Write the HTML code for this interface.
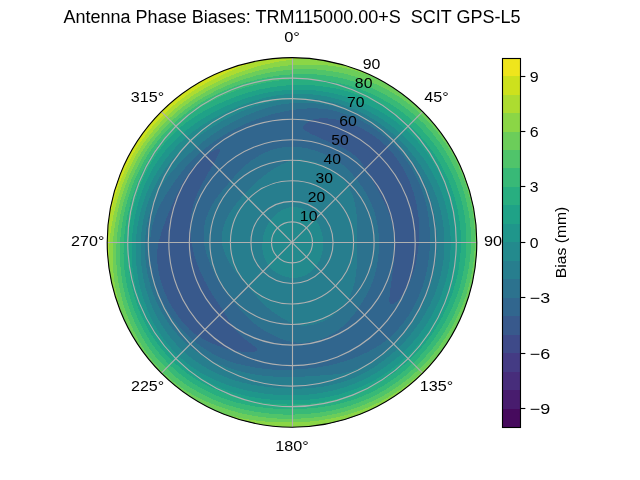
<!DOCTYPE html><html><head><meta charset="utf-8"><title>Antenna Phase Biases</title><style>html,body{margin:0;padding:0;background:#fff;width:640px;height:480px;overflow:hidden}svg{display:block}</style></head><body><svg width="640" height="480" viewBox="0 0 640 480"><rect width="640" height="480" fill="#fff"/><defs><clipPath id="c"><circle cx="292.00" cy="242.40" r="184.80"/></clipPath></defs><g clip-path="url(#c)" shape-rendering="crispEdges" fill-rule="evenodd"><circle cx="292.00" cy="242.40" r="185.80" fill="#38598c"/><path d="M292 241.4L292 57.6 301.7 57.9 311.3 58.6 320.9 59.9 330.4 61.6 339.8 63.9 346 65.7 355.2 68.7 364.2 72.3 373 76.3 381.6 80.8 387.2 84 395.3 89.2 403.2 94.8 410.8 100.8 415.7 105.1 422.7 111.7 429.3 118.7 435.6 126.1 439.6 131.2 445.2 139.1 450.4 147.2 455.2 155.6 459.5 164.3 463.3 173.2 466.7 182.2 469.6 191.5 472.1 200.8 473.4 207.1 474.5 213.5 475.8 223.1 476.5 232.7 476.8 242.4 476.5 252.1 475.8 261.7 474.5 271.3 473.4 277.7 472.1 284 469.6 293.3 466.7 302.6 463.3 311.6 459.5 320.5 455.2 329.2 452 334.8 447 343 441.5 351 435.6 358.7 429.3 366.1 422.7 373.1 415.7 379.7 410.8 384 403.2 390 395.3 395.6 387.2 400.8 381.6 404 373 408.5 364.2 412.5 355.2 416.1 346 419.1 336.7 421.7 330.4 423.2 320.9 424.9 311.3 426.2 301.7 426.9 292 427.2 282.3 426.9 272.7 426.2 263.1 424.9 253.6 423.2 244.2 420.9 238 419.1 228.8 416.1 219.8 412.5 211 408.5 202.4 404 196.8 400.8 188.7 395.6 180.8 390 173.2 384 166 377.6 161.3 373.1 154.7 366.1 148.4 358.7 142.5 351 138.8 345.7 133.6 337.6 130.4 332 125.9 323.4 121.9 314.6 118.3 305.6 115.3 296.4 112.7 287.1 110.6 277.7 109 268.1 107.9 258.5 107.3 248.8 107.2 242.4 107.3 236 107.9 226.3 109 216.7 110.6 207.1 112.7 197.7 115.3 188.4 118.3 179.2 120.7 173.2 123.2 167.2 127.3 158.5 132 150 137 141.8 142.5 133.8 148.4 126.1 154.7 118.7 161.3 111.7 168.3 105.1 173.2 100.8 180.8 94.8 188.7 89.2 196.8 84 202.4 80.8 211 76.3 219.8 72.3 228.8 68.7 238 65.7 244.2 63.9 253.6 61.6 263.1 59.9 272.7 58.6 282.3 57.9 292 57.6 292 242.4ZM303.9 129.5L304.6 130.2 306.5 131.4 312.2 134.4 321.7 138.8 339 146.1 344.1 148.5 350.5 152.3 355 155.7 357.7 158.3 360.2 161.1 362.5 164.1 365.7 168.7 370.4 176.6 375.7 185.9 383.3 200.2 387.5 209.5 389.4 214.5 390.9 219.6 392.9 228.2 393.7 233.5 394.2 238.8 394.5 247.7 394.3 256.8 393.3 267.7 390.4 288.9 389.5 297.3 389.4 301.6 389.6 303.2 390.2 304.2 391.2 304.5 392.6 304.2 394.4 303.2 396.6 301.5 399.1 299.1 401.9 295.7 404.3 292.4 406.6 288.7 408.6 284.9 412 276.8 414.6 268.5 416.6 259.9 418.3 249 419.2 238 419.3 229 418.9 220 417.8 211 416.1 202.1 413.5 192.3 409.9 182.3 406.1 173.8 401.6 165.7 396.4 157.9 390.5 150.6 385.6 145.5 378.5 139.3 372.9 135.1 364.9 130.2 356.5 126 347.8 122.6 343.4 121.3 338.9 120.1 334.4 119.2 329.5 118.6 324.6 118.3 320.6 118.4 317.3 118.7 314.5 119.2 312.3 119.8 309.1 121.4 305.3 124.1 303.4 125.9 303 126.9 302.9 127.9 303.3 129ZM257.2 349.4L257 348.7 255.3 347 246.4 340.3 241.9 336.6 237.8 332.6 235.3 329.7 231 323.7 222.5 309.5 211.3 292.8 207.9 287.1 204.5 280.5 201.2 273.7 198.5 267.4 196.2 261 194.6 256.1 193.3 251 191.8 244.1 190.6 235 190.4 229.9 190.5 224.5 190.8 219 191.4 213.6 192.4 208.1 193.5 203.9 195 199.2 196.4 195.8 200.3 187.3 205.7 177.4 215.1 161.1 218.9 153.6 219.7 151.7 220 150.1 219.8 149 218.9 148.4 216.4 149.1 211.9 151.5 207.3 154.7 203.9 157.3 199.3 161.3 195.9 164.6 193 167.8 189.1 172.8 184.2 180.2 179 189.7 173.5 201.6 166.6 218 162.6 228.8 159.6 238.5 157.6 247.5 157.1 254.2 157.2 261.3 157.7 266.1 158.4 270.8 160.5 280.1 163.5 289.2 166.2 295.8 169.3 302.2 172.9 308.4 176.8 314.4 180.9 320 185.6 325.5 189.5 329.5 194.9 334 202.4 338.6 206.5 340.8 212.8 343.8 221.4 347.1 228.6 349.2 238.8 351.3 242.1 351.7 248.2 352.1 253.4 351.8 255.4 351.4 256.8 350.8 257.4 349.9Z" fill="#31668e"/><path d="M292 241.4L292 146.5 298.7 146.9 306.9 148.3 314.9 150.5 324.2 153.9 331.6 157.4 338.6 161.7 343.8 165.6 349.7 171.2 356 178.4 361.6 186 366.5 194 370.8 202.5 374.1 210.9 376.2 218.3 377.9 227.1 378.8 236.3 378.9 247 378.7 252 378.2 257.6 376.7 267.2 375.4 272.8 374.1 277.3 370.9 286.1 366.7 294.7 360.9 304.4 354.2 314 348.8 320.5 342.6 326.5 338.5 329.8 335.6 331.9 331.1 334.6 328 336.3 324.8 337.7 319.9 339.6 313.1 341.5 307.8 342.3 304.3 342.7 297.3 342.7 293.7 342.3 290.3 341.7 285.2 340.3 281.8 339.2 273.9 335.7 264.3 330.6 258 326.5 251.8 321.3 246.1 315.9 238.3 307.2 229.3 296.9 224.8 291.3 220 284 215.8 276.3 210.4 264.3 208.2 258.7 206.3 252.9 205 248.5 204.1 243.9 203.7 240.9 203.5 236.2 203.5 233.1 203.9 228.5 204.4 225.4 205.4 220.8 207.9 213.4 209.8 209.2 211.9 205.1 216 198.5 220.7 192.5 234.6 176.4 239.9 170.6 245.6 165.2 251.9 160.2 258.8 155.8 264.6 152.8 272.3 149.8 278.7 148 285.3 146.9 292 146.5 292 242.4ZM292 110L292 57.6 298.4 57.7 308.1 58.3 317.7 59.4 327.3 61 333.6 62.3 342.9 64.8 352.2 67.7 358.2 69.9 367.2 73.6 375.9 77.7 384.4 82.4 392.6 87.4 400.6 92.9 408.3 98.8 415.7 105.1 422.7 111.7 429.3 118.7 435.6 126.1 441.5 133.8 447 141.8 452 150 456.7 158.5 460.8 167.2 464.5 176.2 466.7 182.2 469.6 191.5 472.1 200.8 473.4 207.1 474.5 213.5 475.8 223.1 476.7 236 476.7 248.8 476.3 255.3 475.4 264.9 473.4 277.7 472.1 284 469.6 293.3 467.8 299.5 464.5 308.6 459.5 320.5 455.2 329.2 452 334.8 447 343 443.4 348.4 439.6 353.6 433.6 361.2 424.9 370.8 418 377.6 413.2 381.9 405.8 388 400.6 391.9 389.9 399.1 381.6 404 370.1 409.9 358.2 414.9 346 419.1 333.6 422.5 320.9 424.9 308.1 426.5 295.2 427.2 282.3 426.9 269.5 425.8 256.7 423.8 244.2 420.9 231.8 417.1 219.8 412.5 208.1 407.1 196.8 400.8 186 393.8 175.7 386 166 377.6 156.8 368.4 148.4 358.7 140.6 348.4 133.6 337.6 127.3 326.3 121.9 314.6 117.3 302.6 113.5 290.2 110.6 277.7 109 268.1 107.7 255.3 107.2 242.4 107.3 236 107.9 226.3 109 216.7 110.6 207.1 112.7 197.7 115.3 188.4 118.3 179.2 120.7 173.2 123.2 167.2 127.3 158.5 132 150 137 141.8 142.5 133.8 148.4 126.1 154.7 118.7 161.3 111.7 168.3 105.1 173.2 100.8 180.8 94.8 188.7 89.2 196.8 84 202.4 80.8 211 76.3 219.8 72.3 228.8 68.7 238 65.7 244.2 63.9 253.6 61.6 263.1 59.9 272.7 58.6 282.3 57.9 292 57.6 292 110 282.9 111.7 271.7 114.4 263.1 117.1 252.5 120.9 243.4 124.7 234.3 129.2 226.6 133.5 217.2 139.5 208.2 146 201.3 151.7 194.6 157.7 188.3 164.2 182.3 171.2 176.8 178.5 171.5 186.2 164 197.8 159.1 206.7 156.8 211.9 155.3 215.8 153.8 220.5 152.3 226.3 151.1 232.5 150.4 237.5 149.8 247.4 149.9 254.8 150.3 259.8 150.9 264.8 152.2 272.1 153.3 277 155.3 284.2 157.8 291.2 159.7 295.9 162.9 302.6 166.5 309.1 170.5 315.4 174.9 321.4 179.7 327 184.7 332.4 191.9 339.1 197.6 343.7 203.4 348 209.5 351.9 215.7 355.4 222.3 358.6 229.3 361.4 235.6 363.3 247 366 256 367.7 265.5 369 274.1 369.7 283.1 369.9 294.2 369.6 305.3 368.8 316.3 367.6 326.5 366 334 364.3 342.7 361.9 351.4 359 360 355.6 368.5 351.6 376.7 347 382.7 343.1 386.5 340.3 390.2 337.2 397 330.5 403.1 323.1 408.7 315.3 413.6 307 415.8 302.8 418.8 296.2 422.3 287.3 423.7 282.7 425.7 275.7 427.6 266.3 429.3 254.4 430 242.4 429.8 230.3 429 220.7 428 213.5 427.1 208.7 424.6 198.7 422.6 192.3 420.9 187.7 417.1 178.7 414.9 174.3 411.8 168.7 405.9 159.6 400 151.8 393.4 144.5 386.2 137.7 378.6 131.6 374.6 128.7 368.4 124.8 364.1 122.3 357.6 119 348.6 115.2 338.9 112 330 109.9 326.9 109.3 320.4 108.6 311.5 108.3 301.3 108.8 292 110Z" fill="#2c728e"/><path d="M292 241.4L292 160.3 297.7 159.4 302.2 159.5 308 160.1 313.7 161.4 319.3 163.2 326 166.1 331.2 169 335.8 172.3 339.6 175.4 344.2 180.2 347.3 184.5 349 187.4 351.4 192.5 353.4 197.8 355 203.7 356.1 210 356.9 217.5 357.2 226.1 357.1 257 356.7 267.3 355.9 275.2 354.5 283 352.6 289.7 350.1 296 348.7 299 346.4 302.5 342.9 306.8 337.3 312.2 333.9 314.9 330.5 317.3 323.8 321 319.7 322.8 316.9 323.7 312.6 324.9 309.6 325.4 303.7 325.7 299 325.3 294.9 324.3 290.4 322.5 285.2 319.8 277.2 314.8 270.1 309.8 265.2 305.7 260.7 301.3 238.7 275.7 234.6 270.4 230.7 264.7 226.7 257.5 223.9 250.8 222.3 244.8 222 242.4 221.7 238.7 222 233.8 223.2 227.8 224.7 223.1 227.2 217.5 230.3 212.1 233.5 207.3 237.8 201.7 244 194.6 250.7 187.4 255.1 183.1 261.7 177.5 268 172.7 274.3 168.5 281.1 164.7 286.4 162.2 292 160.3 292 242.4ZM292 102.8L292 57.6 301.7 57.9 311.3 58.6 320.9 59.9 330.4 61.6 339.8 63.9 346 65.7 355.2 68.7 364.2 72.3 373 76.3 381.6 80.8 389.9 85.7 398 91 403.2 94.8 410.8 100.8 418 107.2 424.9 114 431.5 121.2 437.6 128.6 443.4 136.4 448.7 144.5 453.6 152.8 458.1 161.4 462.1 170.2 464.5 176.2 466.7 182.2 469.6 191.5 472.1 200.8 473.4 207.1 474.5 213.5 475.8 223.1 476.7 236 476.7 248.8 476.3 255.3 475.4 264.9 473.4 277.7 472.1 284 469.6 293.3 467.8 299.5 464.5 308.6 459.5 320.5 455.2 329.2 452 334.8 447 343 443.4 348.4 439.6 353.6 433.6 361.2 424.9 370.8 415.7 379.7 410.8 384 403.2 390 392.6 397.4 381.6 404 370.1 409.9 358.2 414.9 346 419.1 333.6 422.5 320.9 424.9 308.1 426.5 295.2 427.2 282.3 426.9 269.5 425.8 256.7 423.8 244.2 420.9 234.9 418.2 222.8 413.7 211 408.5 199.6 402.4 188.7 395.6 178.2 388 168.3 379.7 159.1 370.8 150.4 361.2 142.5 351 135.3 340.3 128.8 329.2 123.2 317.6 118.3 305.6 114.4 293.3 111.2 280.8 109 268.1 107.7 255.3 107.2 242.4 107.3 236 107.9 226.3 109 216.7 110.6 207.1 112.7 197.7 115.3 188.4 118.3 179.2 120.7 173.2 123.2 167.2 127.3 158.5 132 150 137 141.8 142.5 133.8 148.4 126.1 154.7 118.7 161.3 111.7 168.3 105.1 173.2 100.8 180.8 94.8 188.7 89.2 196.8 84 202.4 80.8 211 76.3 219.8 72.3 228.8 68.7 238 65.7 244.2 63.9 253.6 61.6 263.1 59.9 272.7 58.6 282.3 57.9 292 57.6 292 103.2 284.2 104 275.2 105.6 265.9 108.1 259.1 110.4 250.2 113.8 239.5 118.7 231.2 123 221.1 128.9 213.3 134.1 203.9 141.1 194.8 148.6 187.8 155 179.3 163.5 171.1 172.6 165 180.5 160.8 186.7 157.2 193.3 155 197.9 152.2 204.9 150.6 209.7 148.5 217.1 147.4 222.1 146.5 227.1 145.5 234.7 145 242.4 144.9 247.5 145 252.7 145.5 260.4 146.1 265.5 147.4 273.1 149.1 280.7 150.5 285.7 153.8 295.4 156.8 302.6 160.2 309.6 164 316.3 168.2 322.8 172.8 329 177.8 334.9 183.1 340.5 188.8 345.6 194.8 350.4 201.1 354.7 207.6 358.6 214.3 362 221.2 365 228.2 367.6 237.6 370.6 247 373 256.5 374.8 266 376.1 277.9 376.8 289.7 377 301.4 376.7 310.8 376.2 337.4 374.2 342.3 373.4 347.1 372.3 351.9 370.8 358.8 368.1 363.4 366 370 362.5 376.3 358.5 382.4 354.2 390.2 347.7 397.4 340.7 404.2 333.2 407.3 329.3 411.7 323.2 417.2 314.7 420.8 308 423.1 303.5 427.1 294.3 428.8 289.5 431.2 282.3 433.7 272.5 434.6 267.6 435.8 260.1 436.4 255 436.9 247.5 436.9 237.3 436.5 229.8 436 224.7 434.4 214.7 432.2 204.8 430.8 200 428.4 192.8 425.6 185.7 423.5 181.1 418.9 172.1 415 165.5 412.2 161.3 406.2 153.1 399.7 145.5 392.5 138.3 386.9 133.3 382.9 130.1 374.7 124.3 366.1 119.1 357.1 114.6 347.8 110.8 340.8 108.5 336 107.1 331.1 105.9 323.8 104.5 314 103.3 309.1 102.9 301.8 102.8 292 103.2Z" fill="#277e8e"/><path d="M292 241.4L292 207.1 295.1 207 297.6 207.3 300.6 208 302.9 208.9 305.6 210.3 307.7 211.6 310.1 213.5 312.2 215.6 314.5 218.2 316.5 221.1 318.3 224 319.8 227 321 230.1 321.9 233.3 322.6 236.5 323 239.7 323.2 243.5 323.1 247.3 322.6 250.6 321.9 253.9 320.9 257.1 319.8 260 318.2 262.9 316.3 265.9 314.4 268.2 312.3 270.4 310 272.3 307.4 274.1 304.7 275.5 301.8 276.6 298.8 277.4 295.7 277.9 292.6 277.9 290.1 277.8 287.1 277.2 284.1 276.4 281.3 275.3 278.6 274 275.5 272.1 273.2 270.3 271.1 268.3 269.1 266.1 267.4 263.8 266 261.3 264.6 258.2 263.7 255.6 262.9 252.6 262.5 249.8 262.3 246.6 262.4 243.4 262.7 239.8 263.3 236.3 264.2 232.8 265.4 229.4 266.7 226.6 268.4 223.3 270.2 220.6 272.3 218 274.6 215.6 277.2 213.3 279.5 211.6 282.1 210.1 284.9 208.8 287.8 207.8 290.8 207.2 292 207.1 292 242.4ZM292 98.7L292 57.6 301.7 57.9 311.3 58.6 320.9 59.9 330.4 61.6 339.8 63.9 349.1 66.6 358.2 69.9 367.2 73.6 375.9 77.7 384.4 82.4 392.6 87.4 400.6 92.9 408.3 98.8 415.7 105.1 420.4 109.5 427.2 116.4 431.5 121.2 437.6 128.6 443.4 136.4 448.7 144.5 453.6 152.8 458.1 161.4 462.1 170.2 464.5 176.2 466.7 182.2 469.6 191.5 472.8 204 474.5 213.5 475.4 219.9 476.5 232.7 476.8 245.6 476.3 255.3 475.8 261.7 474.5 271.3 473.4 277.7 470.5 290.2 467.8 299.5 465.7 305.6 460.8 317.6 455.2 329.2 452 334.8 447 343 439.6 353.6 433.6 361.2 429.3 366.1 424.9 370.8 418 377.6 413.2 381.9 405.8 388 395.3 395.6 384.4 402.4 373 408.5 361.2 413.7 349.1 418.2 336.7 421.7 324.1 424.4 311.3 426.2 298.4 427.1 285.6 427.1 272.7 426.2 259.9 424.4 247.3 421.7 234.9 418.2 222.8 413.7 211 408.5 199.6 402.4 188.7 395.6 178.2 388 168.3 379.7 159.1 370.8 150.4 361.2 142.5 351 135.3 340.3 128.8 329.2 123.2 317.6 118.3 305.6 114.4 293.3 111.2 280.8 109 268.1 107.7 255.3 107.2 242.4 107.3 236 107.9 226.3 109 216.7 110.6 207.1 112.7 197.7 115.3 188.4 118.3 179.2 120.7 173.2 123.2 167.2 127.3 158.5 132 150 137 141.8 142.5 133.8 148.4 126.1 154.7 118.7 161.3 111.7 168.3 105.1 173.2 100.8 180.8 94.8 188.7 89.2 196.8 84 202.4 80.8 211 76.3 219.8 72.3 228.8 68.7 238 65.7 244.2 63.9 253.6 61.6 263.1 59.9 272.7 58.6 282.3 57.9 292 57.6 292 98.8 284.5 99.6 274.7 101.2 265 103.4 255.5 106.1 246.2 109.5 237.2 113.3 228.4 117.7 219.9 122.4 209.5 128.9 199.4 135.9 189.5 143.4 182.4 149.4 176.7 154.9 170.7 161.5 164.9 169 160.6 175.5 158 179.9 154.4 186.8 151.2 193.9 148.4 201.2 146 208.7 144.1 216.3 142.6 224.1 141.5 231.9 140.8 239.8 140.5 247.7 140.6 255.6 141.2 263.6 142.2 271.5 143.6 279.4 145.4 287.2 146.9 292.4 150.4 302.5 153.5 309.9 157.1 317.2 161.1 324.2 165.5 331 170.3 337.5 175.6 343.6 181.2 349.4 187.2 354.8 193.6 359.7 200.2 364.2 207.1 368.3 216.5 373.2 223.7 376.4 231.1 379.2 240.4 382 248.7 384 258.9 385.9 269.1 387.2 279.3 388 292 388.5 302.2 388.5 312.5 387.9 322.7 386.7 330.3 385.3 340.3 382.8 347.7 380.3 355 377.4 362 374.1 371.1 369.1 377.7 364.8 386.1 358.7 394.1 351.9 398 348.4 403.5 342.8 408.7 336.9 412 332.9 418.3 324.4 421.2 320.1 425.4 313.3 430.3 304 434.6 294.3 438.1 284.3 440.3 276.6 441.5 271.5 443.4 261 444.4 250.4 444.5 239.7 443.8 229.1 442.3 218.6 440 208.2 436.8 198.1 432.6 187.6 429.6 181.2 427.1 176.5 424.5 171.9 420.4 165.3 414.3 156.8 411.1 152.7 406 146.7 400.7 141.1 397 137.4 389.2 130.6 385.1 127.4 378.8 122.9 372.4 118.7 367.9 116.1 358.8 111.4 354.1 109.3 346.9 106.4 337.2 103.3 332.2 102 324.8 100.5 314.7 99.1 304.6 98.5 299.5 98.5 292 98.8Z" fill="#238a8d"/><path d="M292 93.5L292 57.6 304.9 58.1 314.5 59 324.1 60.4 333.6 62.3 342.9 64.8 352.2 67.7 361.2 71.1 370.1 74.9 375.9 77.7 384.4 82.4 392.6 87.4 400.6 92.9 408.3 98.8 415.7 105.1 420.4 109.5 427.2 116.4 431.5 121.2 437.6 128.6 443.4 136.4 448.7 144.5 452 150 456.7 158.5 459.5 164.3 463.3 173.2 465.7 179.2 468.7 188.4 472.1 200.8 474.5 213.5 475.8 223.1 476.3 229.5 476.8 239.2 476.8 245.6 476.3 255.3 475.8 261.7 474.5 271.3 473.4 277.7 470.5 290.2 467.8 299.5 465.7 305.6 460.8 317.6 455.2 329.2 452 334.8 447 343 439.6 353.6 433.6 361.2 429.3 366.1 424.9 370.8 418 377.6 408.3 386 398 393.8 387.2 400.8 375.9 407.1 364.2 412.5 352.2 417.1 339.8 420.9 327.3 423.8 314.5 425.8 301.7 426.9 288.8 427.2 275.9 426.5 263.1 424.9 250.4 422.5 238 419.1 225.8 414.9 213.9 409.9 202.4 404 196.8 400.8 188.7 395.6 178.2 388 168.3 379.7 159.1 370.8 150.4 361.2 142.5 351 135.3 340.3 128.8 329.2 123.2 317.6 118.3 305.6 114.4 293.3 111.2 280.8 109 268.1 107.7 255.3 107.2 242.4 107.3 236 107.9 226.3 109 216.7 110.6 207.1 112.7 197.7 115.3 188.4 118.3 179.2 120.7 173.2 123.2 167.2 127.3 158.5 132 150 137 141.8 142.5 133.8 148.4 126.1 154.7 118.7 161.3 111.7 168.3 105.1 173.2 100.8 180.8 94.8 188.7 89.2 196.8 84 202.4 80.8 211 76.3 219.8 72.3 228.8 68.7 238 65.7 244.2 63.9 253.6 61.6 263.1 59.9 272.7 58.6 282.3 57.9 292 57.6 292 93.9 281.7 94.7 274 95.9 263.9 98 254 100.8 244.4 104.1 232.6 108.9 221 114.4 212 119.2 203.2 124.6 194.7 130.5 188.6 135.3 180.8 142.2 175.2 147.8 168.3 155.8 163.5 162.1 157.7 171 153.7 177.9 150.1 185.1 146.9 192.4 143.5 201.8 140.9 210.3 139 218.2 137.5 226.2 136.5 234.3 135.9 242.4 135.7 250.6 135.9 258.8 136.6 267 137.7 275.2 139.2 283.3 141.2 291.4 143.6 299.4 147.5 309.8 150.9 317.4 154.7 324.9 159 332.1 163.8 339 168.9 345.7 174.5 351.9 180.6 357.8 187 363.2 193.7 368.2 200.8 372.7 208.1 376.7 215.6 380.2 225.8 384.3 233.6 386.9 244.1 389.8 254.7 392 265.3 393.7 276 394.8 286.7 395.3 297.3 395.2 308 394.6 318.6 393.3 326.5 391.9 337 389.5 344.7 387.2 354.8 383.5 362.2 380.3 370.6 376 378.9 371.2 385.6 366.7 394.3 360.1 398.5 356.6 404.5 351 412.1 343.2 419.1 334.8 425.6 325.9 431.3 316.5 436.8 305.8 439.8 299.1 441.7 294 445.1 283.4 447.2 275.4 448.3 270 449.9 259 450.7 247.9 450.6 236.9 449.7 225.8 447.9 214.9 445.4 204.2 443.8 198.9 441.1 191.1 436.8 181 431.7 171.2 425.9 161.9 422.8 157.5 417.8 151 410.6 142.9 406.8 139 400.9 133.5 392.6 126.7 387.2 122.7 381.7 118.9 370.9 112.6 360.7 107.5 349.8 103 338.5 99.3 330.9 97.4 325.7 96.3 315.4 94.7 310.2 94.2 302.4 93.8 292 93.9Z" fill="#1f968b"/><path d="M292 89.4L292 57.6 304.9 58.1 314.5 59 324.1 60.4 333.6 62.3 346 65.7 355.2 68.7 364.2 72.3 373 76.3 378.8 79.2 387.2 84 395.3 89.2 403.2 94.8 410.8 100.8 415.7 105.1 420.4 109.5 427.2 116.4 431.5 121.2 437.6 128.6 443.4 136.4 448.7 144.5 452 150 456.7 158.5 459.5 164.3 463.3 173.2 465.7 179.2 468.7 188.4 472.1 200.8 474.5 213.5 475.8 223.1 476.3 229.5 476.8 242.4 476.7 248.8 476.1 258.5 474.5 271.3 472.8 280.8 471.3 287.1 467.8 299.5 464.5 308.6 462.1 314.6 459.5 320.5 455.2 329.2 448.7 340.3 443.4 348.4 439.6 353.6 431.5 363.6 424.9 370.8 420.4 375.3 410.8 384 400.6 391.9 395.3 395.6 387.2 400.8 375.9 407.1 364.2 412.5 352.2 417.1 339.8 420.9 327.3 423.8 314.5 425.8 301.7 426.9 288.8 427.2 275.9 426.5 263.1 424.9 250.4 422.5 238 419.1 225.8 414.9 213.9 409.9 202.4 404 196.8 400.8 188.7 395.6 178.2 388 168.3 379.7 159.1 370.8 150.4 361.2 142.5 351 135.3 340.3 128.8 329.2 123.2 317.6 118.3 305.6 114.4 293.3 111.2 280.8 109 268.1 107.7 255.3 107.2 242.4 107.3 236 107.9 226.3 109 216.7 110.6 207.1 112.7 197.7 115.3 188.4 118.3 179.2 120.7 173.2 123.2 167.2 127.3 158.5 132 150 137 141.8 142.5 133.8 148.4 126.1 154.7 118.7 161.3 111.7 168.3 105.1 173.2 100.8 180.8 94.8 188.7 89.2 196.8 84 202.4 80.8 211 76.3 219.8 72.3 228.8 68.7 238 65.7 244.2 63.9 253.6 61.6 263.1 59.9 272.7 58.6 282.3 57.9 292 57.6 292 89.6 284 90.2 273.5 91.5 263 93.5 252.8 96.1 242.7 99.3 232.9 103.1 220.8 108.5 211.4 113.5 202.3 118.9 193.4 124.9 184.9 131.5 178.8 136.8 171 144.4 165.5 150.5 158.9 159.2 154.3 166.1 150.2 173.3 146.5 180.7 143.3 188.3 140.4 196.1 137.9 204 135.3 214.7 133.8 223 132.7 231.3 131.8 241.5 131.6 250.8 131.9 259.2 132.5 267.7 133.6 276.1 135.2 284.4 137.3 292.7 139.8 300.8 142.8 308.8 147.5 319.3 151.5 326.8 156 334.1 160.9 341.2 166.2 347.9 172 354.3 178 360.4 184.5 366.1 191.3 371.3 199.2 376.7 208.2 381.9 215.8 385.7 223.6 389 232.6 392.3 242.4 395 250.6 396.8 262.5 398.8 272.7 399.8 283.7 400.4 294.8 400.4 306.5 399.8 316.8 398.8 327.7 397 338.5 394.6 346.5 392.2 357 388.5 364.7 385.2 372.3 381.4 382 375.8 390 370.4 398 364.3 406.4 356.8 414.8 348.4 420 342.4 423.6 338 430.2 328.8 436.2 319 440.2 311.5 442.6 306.3 446.9 295.8 450.5 284.9 453.3 273.7 454.8 265.3 455.5 259.6 456.4 248.1 456.3 236.7 455.5 225.2 453.7 213.9 451.1 202.7 449.5 197.2 446.7 189.1 442.2 178.6 437 168.5 434.2 163.6 430.2 157.5 426.2 151.9 422.7 147.4 415.3 138.9 411.4 134.9 405.8 129.7 396.5 122.1 387.4 115.8 377.9 110.1 373 107.5 365.6 104 355.3 99.8 347.8 97.2 342.5 95.6 334.7 93.6 329.4 92.5 318.7 90.8 313.4 90.2 305.4 89.6 300 89.5 292 89.6Z" fill="#1fa287"/><path d="M292 84.3L292 57.6 304.9 58.1 314.5 59 324.1 60.4 333.6 62.3 346 65.7 355.2 68.7 364.2 72.3 375.9 77.7 384.4 82.4 389.9 85.7 398 91 403.2 94.8 410.8 100.8 415.7 105.1 420.4 109.5 427.2 116.4 431.5 121.2 437.6 128.6 443.4 136.4 448.7 144.5 452 150 456.7 158.5 459.5 164.3 463.3 173.2 465.7 179.2 468.7 188.4 472.1 200.8 474.5 213.5 475.8 223.1 476.3 229.5 476.8 242.4 476.3 255.3 475.8 261.7 474.5 271.3 472.1 284 470.5 290.2 467.8 299.5 463.3 311.6 459.5 320.5 456.7 326.3 450.4 337.6 443.4 348.4 439.6 353.6 433.6 361.2 424.9 370.8 418 377.6 413.2 381.9 403.2 390 398 393.8 389.9 399.1 378.8 405.6 367.2 411.2 355.2 416.1 342.9 420 330.4 423.2 317.7 425.4 304.9 426.7 292 427.2 279.1 426.7 266.3 425.4 256.7 423.8 250.4 422.5 238 419.1 225.8 414.9 213.9 409.9 202.4 404 196.8 400.8 188.7 395.6 178.2 388 168.3 379.7 159.1 370.8 150.4 361.2 142.5 351 135.3 340.3 128.8 329.2 123.2 317.6 118.3 305.6 114.4 293.3 111.2 280.8 109 268.1 107.7 255.3 107.2 242.4 107.3 236 107.9 226.3 109 216.7 110.6 207.1 112.7 197.7 115.3 188.4 118.3 179.2 120.7 173.2 123.2 167.2 127.3 158.5 132 150 137 141.8 142.5 133.8 148.4 126.1 154.7 118.7 161.3 111.7 168.3 105.1 173.2 100.8 180.8 94.8 188.7 89.2 196.8 84 202.4 80.8 211 76.3 219.8 72.3 228.8 68.7 238 65.7 244.2 63.9 253.6 61.6 263.1 59.9 272.7 58.6 282.3 57.9 292 57.6 292 85 281.1 85.9 270.2 87.4 259.5 89.5 249 92.3 238.6 95.7 225.9 100.6 215.4 105.3 206 110 196.4 115.6 189.5 120.2 182.4 125.6 176.5 130.8 170.5 136.7 164.8 143 159.6 149.7 153.3 159 149 166.3 145.1 173.9 141.6 181.6 137.6 192.2 135 200.3 132.2 211.3 130.5 219.7 128.9 231 128.2 239.5 127.9 249.5 128.1 259.6 128.8 268.2 130 276.8 131.6 285.4 134.4 296.7 137.1 305 141.4 315.9 145.2 323.8 149.4 331.5 154.1 338.9 157.5 343.7 161.1 348.4 166.8 355.1 173 361.4 179.5 367.3 186.4 372.8 194.1 378.1 203.6 383.8 211.4 387.7 219.4 391.2 227.5 394.3 235.8 396.9 246.8 399.9 255.3 401.6 266.5 403.2 277.8 404.2 289.2 404.6 300.5 404.3 310 403.6 320.2 402.4 331.4 400.3 339.7 398.4 350.6 395.1 358.7 392.2 369.2 387.7 376.9 383.7 386.8 377.9 394 373 403.1 365.8 409 360.6 413.8 356 421.7 347.4 428.9 338.3 435.6 328.7 440.1 321.1 442.8 316 447.8 305.4 452.1 294.4 455.5 283.2 457.6 274.6 458.7 268.8 460.2 257.1 461 245.3 460.8 233.6 459.7 221.8 457.8 210.2 455 198.7 453.3 193.1 450.4 184.8 447.6 178 444.4 171.3 438.8 161 432.4 151.2 425.4 141.9 417.6 133.2 409.3 125.1 400.4 117.7 395.7 114.3 388.5 109.5 378.6 103.8 368.3 98.8 357.8 94.6 350.9 92.4 344.3 90.5 333.4 88 327.9 87.1 319.6 86 314.1 85.4 305.8 85 300.3 84.9 292 85Z" fill="#28ae80"/><path d="M292 79.2L292 57.6 295.2 57.6 308.1 58.3 317.7 59.4 330.4 61.6 339.8 63.9 352.2 67.7 361.2 71.1 373 76.3 381.6 80.8 387.2 84 395.3 89.2 403.2 94.8 408.3 98.8 415.7 105.1 420.4 109.5 427.2 116.4 431.5 121.2 439.6 131.2 443.4 136.4 448.7 144.5 452 150 456.7 158.5 459.5 164.3 463.3 173.2 465.7 179.2 468.7 188.4 472.1 200.8 474.5 213.5 475.8 223.1 476.3 229.5 476.8 242.4 476.3 255.3 475.8 261.7 474.5 271.3 472.1 284 470.5 290.2 467.8 299.5 463.3 311.6 459.5 320.5 456.7 326.3 450.4 337.6 443.4 348.4 439.6 353.6 433.6 361.2 424.9 370.8 418 377.6 413.2 381.9 403.2 390 398 393.8 389.9 399.1 378.8 405.6 367.2 411.2 355.2 416.1 342.9 420 330.4 423.2 317.7 425.4 304.9 426.7 292 427.2 279.1 426.7 266.3 425.4 256.7 423.8 250.4 422.5 238 419.1 225.8 414.9 213.9 409.9 202.4 404 196.8 400.8 188.7 395.6 178.2 388 168.3 379.7 159.1 370.8 150.4 361.2 142.5 351 135.3 340.3 128.8 329.2 123.2 317.6 118.3 305.6 114.4 293.3 111.2 280.8 109 268.1 107.7 255.3 107.2 242.4 107.3 236 107.9 226.3 109 216.7 110.6 207.1 112.7 197.7 115.3 188.4 118.3 179.2 120.7 173.2 123.2 167.2 127.3 158.5 132 150 137 141.8 142.5 133.8 148.4 126.1 154.7 118.7 161.3 111.7 168.3 105.1 173.2 100.8 180.8 94.8 188.7 89.2 196.8 84 202.4 80.8 211 76.3 219.8 72.3 228.8 68.7 238 65.7 244.2 63.9 253.6 61.6 263.1 59.9 272.7 58.6 282.3 57.9 292 57.6 292 79.3 280.7 80.2 271.5 81.5 261.1 83.5 250.1 86.1 239.3 89.4 228.7 93.3 218.3 97.7 208.1 102.8 200.7 107.1 191.2 113.4 182.1 120.4 175.6 126 169.5 132.1 161.9 140.7 156.6 147.6 150.1 157.2 145.8 164.6 140.6 175 137.1 183 133.2 193.8 130.5 202.5 127.8 213.5 125.7 224.9 124.5 233.6 123.6 245.1 123.5 254.2 123.8 262.5 124.7 271.9 126 280.7 127.9 289.5 131.1 301 134 309.5 138.7 320.5 142.7 328.6 147.2 336.4 152.1 344 157.5 351.3 163.4 358.2 169.6 364.8 176.3 370.9 183.3 376.6 190.7 381.9 198.3 386.6 208.9 392.2 217.1 395.9 225.5 399.1 236.8 402.6 245.5 404.7 257.1 406.8 268.7 408.2 280.4 409 292 409.2 303.6 408.8 315.3 407.9 326.8 406.3 338.3 404 349.7 400.9 358 398 366.2 394.6 374.3 390.8 382 386.5 392.1 380.1 399.3 374.9 408.5 367.3 415 361.2 419.2 356.9 427.1 348 432.7 340.9 436.2 336 442.7 325.9 445.8 320.4 449.8 312.7 454.7 301.6 458.8 290.2 462 278.5 463.9 269.6 464.9 263.6 466.2 251.5 466.5 239.4 466 227.2 464.5 215.1 462.1 203.1 458.8 191.4 454.6 180 449.6 168.9 443.7 158.3 437.1 148.2 433.5 143.3 427.8 136.3 419.7 127.4 410.9 119.2 401.7 111.7 396.8 108.2 389.4 103.4 379 97.5 368.4 92.5 362.9 90.3 356.2 87.9 349.1 85.6 343.4 84.1 337.8 82.8 329.2 81.2 317.8 79.8 306.3 79.1 297.7 79.1 292 79.3Z" fill="#38b977"/><path d="M292 74L292 57.6 298.4 57.7 308.1 58.3 317.7 59.4 327.3 61 336.7 63.1 346 65.7 355.2 68.7 364.2 72.3 375.9 77.7 384.4 82.4 389.9 85.7 398 91 403.2 94.8 410.8 100.8 420.4 109.5 427.2 116.4 431.5 121.2 439.6 131.2 443.4 136.4 448.7 144.5 452 150 456.7 158.5 459.5 164.3 463.3 173.2 465.7 179.2 468.7 188.4 472.1 200.8 474.5 213.5 475.8 223.1 476.3 229.5 476.8 242.4 476.3 255.3 475.8 261.7 474.5 271.3 472.1 284 468.7 296.4 464.5 308.6 459.5 320.5 455.2 329.2 452 334.8 447 343 443.4 348.4 435.6 358.7 429.3 366.1 424.9 370.8 415.7 379.7 405.8 388 395.3 395.6 384.4 402.4 373 408.5 364.2 412.5 358.2 414.9 346 419.1 333.6 422.5 320.9 424.9 308.1 426.5 298.4 427.1 292 427.2 279.1 426.7 266.3 425.4 253.6 423.2 241.1 420 228.8 416.1 216.8 411.2 205.2 405.6 194.1 399.1 183.4 391.9 173.2 384 163.6 375.3 156.8 368.4 152.5 363.6 144.4 353.6 137 343 130.4 332 124.5 320.5 119.5 308.6 115.3 296.4 111.9 284 109.5 271.3 107.9 258.5 107.3 248.8 107.2 242.4 107.3 236 107.9 226.3 109 216.7 110.6 207.1 112.7 197.7 115.3 188.4 118.3 179.2 120.7 173.2 123.2 167.2 127.3 158.5 132 150 137 141.8 142.5 133.8 148.4 126.1 154.7 118.7 161.3 111.7 168.3 105.1 173.2 100.8 180.8 94.8 188.7 89.2 196.8 84 202.4 80.8 211 76.3 219.8 72.3 228.8 68.7 238 65.7 244.2 63.9 253.6 61.6 263.1 59.9 272.7 58.6 282.3 57.9 292 57.6 292 74.3 280.3 75.3 268.8 77.1 257.4 79.5 246.7 82.4 235.2 86.2 224.4 90.5 213.9 95.5 206.2 99.6 196.3 105.7 189.1 110.7 180 118 173.4 123.8 165.2 132.2 159.4 138.8 152.3 148.1 147.4 155.5 142.9 163.1 137.5 173.6 133 184 129.8 192.8 126.3 204.2 124.1 213.3 122 224.5 120.7 234.4 120 245.4 119.9 254.4 120.2 263.5 121.4 275.6 122.8 284.6 125.5 296.5 128.1 305.3 131.2 314 135.5 324.1 140.2 333.6 144.9 341.6 150.1 349.4 155.7 356.8 161.8 363.8 168.4 370.4 175.3 376.6 182.7 382.3 190.4 387.5 200.3 393.3 209.4 397.8 217.8 401.5 229.4 405.6 238.2 408.1 250 410.8 259 412.3 271 413.8 283 414.5 295 414.5 307 413.9 319 412.7 330.8 410.7 339.7 408.7 351.3 405.3 359.8 402.2 368.2 398.7 379.1 393.3 387 388.7 397.2 382 404.5 376.5 413.8 368.5 420 362.5 424.6 357.7 432.7 348.4 440 338.5 446.7 328.2 451.3 320.1 454.1 314.5 459 303.2 463.2 291.5 466.5 279.5 468.9 267.3 470.1 258 470.7 251.8 471 239.3 470.5 226.8 469.5 217.5 468.5 211.3 465.9 199 462.4 187 458 175.3 452.7 164 446.7 153.1 439.8 142.7 432.1 132.9 428.1 128.2 423.8 123.7 414.8 115.2 405.2 107.5 397.7 102.2 392.5 98.9 381.9 92.8 376.4 90.2 368.5 86.7 356.7 82.3 345.1 79 333.4 76.5 326.5 75.5 318.6 74.6 306.7 74 300.8 74 292 74.3Z" fill="#50c46a"/><path d="M292 68.9L292 57.6 298.4 57.7 308.1 58.3 320.9 59.9 330.4 61.6 339.8 63.9 346 65.7 355.2 68.7 364.2 72.3 373 76.3 378.8 79.2 387.2 84 395.3 89.2 400.6 92.9 410.8 100.8 420.4 109.5 427.2 116.4 431.5 121.2 439.6 131.2 443.4 136.4 448.7 144.5 452 150 456.7 158.5 459.5 164.3 463.3 173.2 465.7 179.2 468.7 188.4 472.1 200.8 474.5 213.5 475.8 223.1 476.3 229.5 476.8 242.4 476.3 255.3 475.8 261.7 474.5 271.3 472.1 284 468.7 296.4 464.5 308.6 459.5 320.5 455.2 329.2 452 334.8 447 343 443.4 348.4 435.6 358.7 427.2 368.4 418 377.6 408.3 386 398 393.8 387.2 400.8 375.9 407.1 364.2 412.5 352.2 417.1 346 419.1 336.7 421.7 324.1 424.4 314.5 425.8 308.1 426.5 295.2 427.2 282.3 426.9 269.5 425.8 256.7 423.8 244.2 420.9 231.8 417.1 219.8 412.5 208.1 407.1 196.8 400.8 188.7 395.6 183.4 391.9 173.2 384 163.6 375.3 154.7 366.1 146.4 356.2 138.8 345.7 132 334.8 125.9 323.4 120.7 311.6 117.3 302.6 115.3 296.4 111.9 284 109.5 271.3 107.9 258.5 107.3 248.8 107.2 242.4 107.3 236 107.9 226.3 109 216.7 110.6 207.1 112.7 197.7 115.3 188.4 118.3 179.2 120.7 173.2 123.2 167.2 127.3 158.5 132 150 137 141.8 142.5 133.8 148.4 126.1 154.7 118.7 161.3 111.7 168.3 105.1 173.2 100.8 180.8 94.8 188.7 89.2 196.8 84 202.4 80.8 211 76.3 219.8 72.3 228.8 68.7 238 65.7 244.2 63.9 253.6 61.6 263.1 59.9 272.7 58.6 282.3 57.9 292 57.6 292 69.5 280 70.8 268.2 72.8 256.5 75.5 247.9 78 242.3 79.8 236.7 81.8 228.4 85 217.6 89.9 207.1 95.3 196.9 101.4 187.1 108.2 180.1 113.7 173.3 119.5 166.9 125.7 160.7 132.3 155 139.1 149.6 146.3 144.6 153.8 140 161.6 134.6 172.3 130.9 180.6 126.7 191.9 123.2 203.4 120.3 215.2 118.1 227.2 117 236.3 116.2 248.5 116.1 258.4 116.8 270.1 117.9 279.4 119.7 289.4 122.4 300.8 125.1 309.8 129 320.3 133.4 330.3 137.8 338.8 142.7 347 146.2 352.3 149.8 357.2 156 364.8 162.6 371.8 169.6 378.4 176.6 384.1 184.8 389.9 193 394.9 201.4 399.3 210.1 403.2 219.8 406.9 230.8 410.5 242.9 413.7 253.6 415.8 264.3 417.4 276.6 418.5 285.8 418.8 298.2 418.7 310.4 417.9 322.7 416.4 334.8 414 343.8 411.8 355.6 408.1 364.3 404.8 375.6 399.7 383.9 395.3 391.9 390.5 402.2 383.4 409.6 377.7 419 369.4 423.4 365 429.9 358.1 437.9 348.4 445.2 338.1 451.8 327.4 457.6 316.1 462.7 304.5 465.9 295.6 467.8 289.5 471 277.2 473.2 264.6 474 258.3 474.7 248.8 474.9 236 474.2 223.3 472.4 210.6 469.8 198.1 466.2 185.8 464.1 179.7 460.6 170.9 455.1 159.3 450.4 151 447 145.5 439.7 135.1 431.6 125.2 422.9 116 418.3 111.7 413.5 107.5 408.5 103.5 403.4 99.8 398.2 96.2 392.8 92.9 387.4 89.8 381.8 86.9 376.1 84.3 370.1 81.7 364.5 79.6 357 77.1 349.6 75 343.6 73.5 337.6 72.2 328.9 70.8 316.3 69.4 304.1 69.1 292 69.5Z" fill="#6ccd5a"/><path d="M292 64.8L292 57.6 298.4 57.7 308.1 58.3 317.7 59.4 327.3 61 333.6 62.3 342.9 64.8 352.2 67.7 358.2 69.9 364.2 72.3 373 76.3 378.8 79.2 385.4 82.9 375.7 78.1 369.8 75.6 363.8 73.3 354.6 70.5 348.4 68.9 342.1 67.5 335.9 66.5 329.6 65.6 317 64.7 304.4 64.5 292 65.1ZM448.7 340.3L445.2 345.7 439.6 353.6 433.6 361.2 429.3 366.1 424.9 370.8 418 377.6 413.2 381.9 405.8 388 400.6 391.9 392.6 397.4 384.4 402.4 378.8 405.6 373 408.5 364.2 412.5 355.2 416.1 349.1 418.2 342.9 420 333.6 422.5 324.1 424.4 317.7 425.4 308.1 426.5 301.7 426.9 292 427.2 285.6 427.1 275.9 426.5 269.5 425.8 263.1 424.9 253.6 423.2 244.2 420.9 238 419.1 228.8 416.1 220.8 412.9 229.1 415.3 235.3 416.9 244.7 418.8 254.2 420.3 263.7 421.4 270 421.9 279.4 422.4 288.9 422.5 298.3 422.3 307.7 421.7 317.1 420.8 323.3 419.9 332.6 418.2 338.7 416.9 347.9 414.5 353.9 412.6 362.9 409.4 368.8 407 377.4 403.1 383.1 400.2 394.1 393.7 400.4 389.6 407.2 384.6 412.2 380.6 419.4 374.3 424.1 369.9 430.8 363 437.1 355.8 441.2 350.8 448.7 340.3ZM122.7 316.6L118.3 305.6 114.4 293.3 111.9 284 109.5 271.3 107.9 258.5 107.3 248.8 107.2 239.2 107.9 226.3 109.5 213.5 111.2 204 113.5 194.6 117.3 182.2 120.7 173.2 125.9 161.4 132 150 137 141.8 142.5 133.8 150.4 123.6 156.8 116.4 166 107.2 173.2 100.8 183.4 92.9 191.4 87.4 202.4 80.8 211 76.3 222.8 71.1 231.8 67.7 244.2 63.9 253.6 61.6 266.3 59.4 279.1 58.1 292 57.6 292 65.1 282.3 66.1 270.6 67.9 258.6 70.5 246.8 73.9 235.4 77.9 229.7 80.2 221.4 83.8 210.5 89.2 200 95.2 189.9 101.8 182.5 107.2 175.5 113 168.7 119.1 160.1 127.8 154.2 134.7 148.5 142 143.3 149.5 138.5 157.3 132.8 168.2 129 176.5 124.5 188 120.7 199.7 118.3 208.6 115.8 220.4 114.2 230 113.2 239.3 112.6 251.6 112.6 261.3 113.2 270.7 114.7 283.3 116.4 292.7 118.6 302.1 122.1 314.5Z" fill="#8bd646"/><path d="M292 58.6L292 57.6 305 58.1 292 59.5ZM108.9 267.4L107.7 255.3 107.2 245.6 107.3 236 107.9 226.3 109 216.7 110.6 207.1 112.7 197.7 115.3 188.4 118.3 179.2 121.9 170.2 125.9 161.4 130.4 152.8 135.3 144.5 140.6 136.4 146.4 128.6 152.5 121.2 159.1 114 166 107.2 173.2 100.8 180.8 94.8 188.7 89.2 196.8 84 205.2 79.2 213.9 74.9 222.8 71.1 231.8 67.7 244.2 63.9 253.6 61.6 263.1 59.9 272.7 58.6 282.3 57.9 292 57.6 292 59.5 279.3 61.5 270 63.4 257.8 66.4 245.8 70.1 237 73.2 228.4 76.6 219.9 80.4 211.6 84.5 203.4 89 195.5 93.8 187.8 99 180.3 104.5 173.1 110.4 166.3 116.7 159.7 123.3 155.5 127.9 149.6 135.1 145.8 140.1 140.6 147.8 135.7 155.8 131.3 164 127.3 172.5 123.7 181.1 120.4 189.9 117.6 198.9 115.1 208 113.1 217.4 111.4 226.6 110.5 233.5 109.6 242.4 109.1 252 108.9 264.9Z" fill="#addc30"/><path d="M108.1 224.3L109 216.7 110 210.3 111.9 200.8 113.5 194.6 116.2 185.3 118.3 179.2 123.2 167.2 127.3 158.5 130.4 152.8 137 141.8 144.4 131.2 148.4 126.1 154.7 118.7 161.3 111.7 166 107.2 175.7 98.8 180.8 94.8 188.7 89.2 199.6 82.4 211 76.3 219.8 72.3 225.8 69.9 231.8 67.7 241.1 64.8 247.3 63.1 255.5 61.2 238.5 67.5 223.9 73.9 209.7 81 198.8 87.3 190.8 92.4 185.6 96 175.6 103.7 168.4 109.9 163.8 114.2 155.1 123.4 147 133.1 139.6 143.4 132.9 154.2 129.9 159.8 125.7 168.4 120.7 180.1 116.5 192.1 112 207.4 108.3 223.1Z" fill="#cde11d"/><path d="M141.4 135.3L146.4 128.6 152.5 121.2 159.1 114 166 107.2 173.2 100.8 178.2 96.8 186 91 193.7 85.9 186.1 91.2 178.4 97 171 103.2 166.2 107.5 159.2 114.2 152.7 121.3 146.4 128.7 142.5 133.8Z" fill="#efe51c"/></g><g fill="none" stroke="#b0b0b0" stroke-width="1.111"><circle cx="292.00" cy="242.40" r="20.53"/><circle cx="292.00" cy="242.40" r="41.07"/><circle cx="292.00" cy="242.40" r="61.60"/><circle cx="292.00" cy="242.40" r="82.13"/><circle cx="292.00" cy="242.40" r="102.67"/><circle cx="292.00" cy="242.40" r="123.20"/><circle cx="292.00" cy="242.40" r="143.73"/><circle cx="292.00" cy="242.40" r="164.27"/><line x1="292.50" y1="57.60" x2="292.50" y2="427.20"/><line x1="107.20" y1="242.50" x2="476.80" y2="242.50"/><line x1="292.00" y1="242.40" x2="422.67" y2="111.73"/><line x1="292.00" y1="242.40" x2="422.67" y2="373.07"/><line x1="292.00" y1="242.40" x2="161.33" y2="373.07"/><line x1="292.00" y1="242.40" x2="161.33" y2="111.73"/></g><circle cx="292.00" cy="242.40" r="184.80" fill="none" stroke="#000" stroke-width="1.111"/><g font-family="Liberation Sans, sans-serif" fill="#000" style="will-change:transform"><text x="292.00" y="42.19" font-size="14.72" text-anchor="middle" textLength="15.75" lengthAdjust="spacingAndGlyphs" style="white-space:pre">0°</text><text x="436.42" y="102.01" font-size="14.72" text-anchor="middle" textLength="24.50" lengthAdjust="spacingAndGlyphs" style="white-space:pre">45°</text><text x="496.24" y="246.43" font-size="14.72" text-anchor="middle" textLength="24.62" lengthAdjust="spacingAndGlyphs" style="white-space:pre">90°</text><text x="436.42" y="390.86" font-size="14.72" text-anchor="middle" textLength="33.38" lengthAdjust="spacingAndGlyphs" style="white-space:pre">135°</text><text x="292.00" y="450.68" font-size="14.72" text-anchor="middle" textLength="33.50" lengthAdjust="spacingAndGlyphs" style="white-space:pre">180°</text><text x="147.58" y="390.86" font-size="14.72" text-anchor="middle" textLength="33.25" lengthAdjust="spacingAndGlyphs" style="white-space:pre">225°</text><text x="87.76" y="246.43" font-size="14.72" text-anchor="middle" textLength="33.25" lengthAdjust="spacingAndGlyphs" style="white-space:pre">270°</text><text x="147.58" y="102.01" font-size="14.72" text-anchor="middle" textLength="33.38" lengthAdjust="spacingAndGlyphs" style="white-space:pre">315°</text><text x="299.86" y="220.74" font-size="14.72" text-anchor="start" textLength="17.62" lengthAdjust="spacingAndGlyphs" style="white-space:pre">10</text><text x="307.72" y="201.77" font-size="14.72" text-anchor="start" textLength="17.50" lengthAdjust="spacingAndGlyphs" style="white-space:pre">20</text><text x="315.57" y="182.80" font-size="14.72" text-anchor="start" textLength="17.50" lengthAdjust="spacingAndGlyphs" style="white-space:pre">30</text><text x="323.43" y="163.83" font-size="14.72" text-anchor="start" textLength="17.50" lengthAdjust="spacingAndGlyphs" style="white-space:pre">40</text><text x="331.29" y="144.86" font-size="14.72" text-anchor="start" textLength="17.50" lengthAdjust="spacingAndGlyphs" style="white-space:pre">50</text><text x="339.15" y="125.89" font-size="14.72" text-anchor="start" textLength="17.62" lengthAdjust="spacingAndGlyphs" style="white-space:pre">60</text><text x="347.00" y="106.92" font-size="14.72" text-anchor="start" textLength="17.50" lengthAdjust="spacingAndGlyphs" style="white-space:pre">70</text><text x="354.86" y="87.95" font-size="14.72" text-anchor="start" textLength="17.62" lengthAdjust="spacingAndGlyphs" style="white-space:pre">80</text><text x="362.72" y="68.98" font-size="14.72" text-anchor="start" textLength="17.62" lengthAdjust="spacingAndGlyphs" style="white-space:pre">90</text><text x="292.00" y="23.30" font-size="17.67" text-anchor="middle" textLength="457.00" lengthAdjust="spacingAndGlyphs" style="white-space:pre">Antenna Phase Biases: TRM115000.00+S  SCIT GPS-L5</text><text x="529.80" y="414.20" font-size="14.72" text-anchor="start" textLength="20.50" lengthAdjust="spacingAndGlyphs" style="white-space:pre">−9</text><text x="529.80" y="358.76" font-size="14.72" text-anchor="start" textLength="20.50" lengthAdjust="spacingAndGlyphs" style="white-space:pre">−6</text><text x="529.80" y="303.32" font-size="14.72" text-anchor="start" textLength="20.38" lengthAdjust="spacingAndGlyphs" style="white-space:pre">−3</text><text x="529.80" y="247.88" font-size="14.72" text-anchor="start" textLength="8.75" lengthAdjust="spacingAndGlyphs" style="white-space:pre">0</text><text x="529.80" y="192.44" font-size="14.72" text-anchor="start" textLength="8.75" lengthAdjust="spacingAndGlyphs" style="white-space:pre">3</text><text x="529.80" y="137.00" font-size="14.72" text-anchor="start" textLength="8.88" lengthAdjust="spacingAndGlyphs" style="white-space:pre">6</text><text x="529.80" y="81.56" font-size="14.72" text-anchor="start" textLength="8.88" lengthAdjust="spacingAndGlyphs" style="white-space:pre">9</text><text x="566.39" y="242.40" font-size="14.72" text-anchor="middle" textLength="71.50" lengthAdjust="spacingAndGlyphs" transform="rotate(-90 566.39 242.40)" style="white-space:pre">Bias (mm)</text></g><g shape-rendering="crispEdges"><rect x="501.60" y="408.72" width="18.48" height="18.48" fill="#460a5d"/><rect x="501.60" y="390.24" width="18.48" height="18.48" fill="#481c6e"/><rect x="501.60" y="371.76" width="18.48" height="18.48" fill="#472d7b"/><rect x="501.60" y="353.28" width="18.48" height="18.48" fill="#443b84"/><rect x="501.60" y="334.80" width="18.48" height="18.48" fill="#3e4a89"/><rect x="501.60" y="316.32" width="18.48" height="18.48" fill="#38598c"/><rect x="501.60" y="297.84" width="18.48" height="18.48" fill="#31668e"/><rect x="501.60" y="279.36" width="18.48" height="18.48" fill="#2c728e"/><rect x="501.60" y="260.88" width="18.48" height="18.48" fill="#277e8e"/><rect x="501.60" y="242.40" width="18.48" height="18.48" fill="#238a8d"/><rect x="501.60" y="223.92" width="18.48" height="18.48" fill="#1f968b"/><rect x="501.60" y="205.44" width="18.48" height="18.48" fill="#1fa287"/><rect x="501.60" y="186.96" width="18.48" height="18.48" fill="#28ae80"/><rect x="501.60" y="168.48" width="18.48" height="18.48" fill="#38b977"/><rect x="501.60" y="150.00" width="18.48" height="18.48" fill="#50c46a"/><rect x="501.60" y="131.52" width="18.48" height="18.48" fill="#6ccd5a"/><rect x="501.60" y="113.04" width="18.48" height="18.48" fill="#8bd646"/><rect x="501.60" y="94.56" width="18.48" height="18.48" fill="#addc30"/><rect x="501.60" y="76.08" width="18.48" height="18.48" fill="#cde11d"/><rect x="501.60" y="57.60" width="18.48" height="18.48" fill="#efe51c"/></g><rect x="502.50" y="58.50" width="18.00" height="369.00" fill="none" stroke="#000" stroke-width="1.111"/><g stroke="#000" stroke-width="1.111"><line x1="520.50" y1="408.50" x2="525.36" y2="408.50"/><line x1="520.50" y1="353.50" x2="525.36" y2="353.50"/><line x1="520.50" y1="297.50" x2="525.36" y2="297.50"/><line x1="520.50" y1="242.50" x2="525.36" y2="242.50"/><line x1="520.50" y1="186.50" x2="525.36" y2="186.50"/><line x1="520.50" y1="131.50" x2="525.36" y2="131.50"/><line x1="520.50" y1="76.50" x2="525.36" y2="76.50"/></g></svg></body></html>
